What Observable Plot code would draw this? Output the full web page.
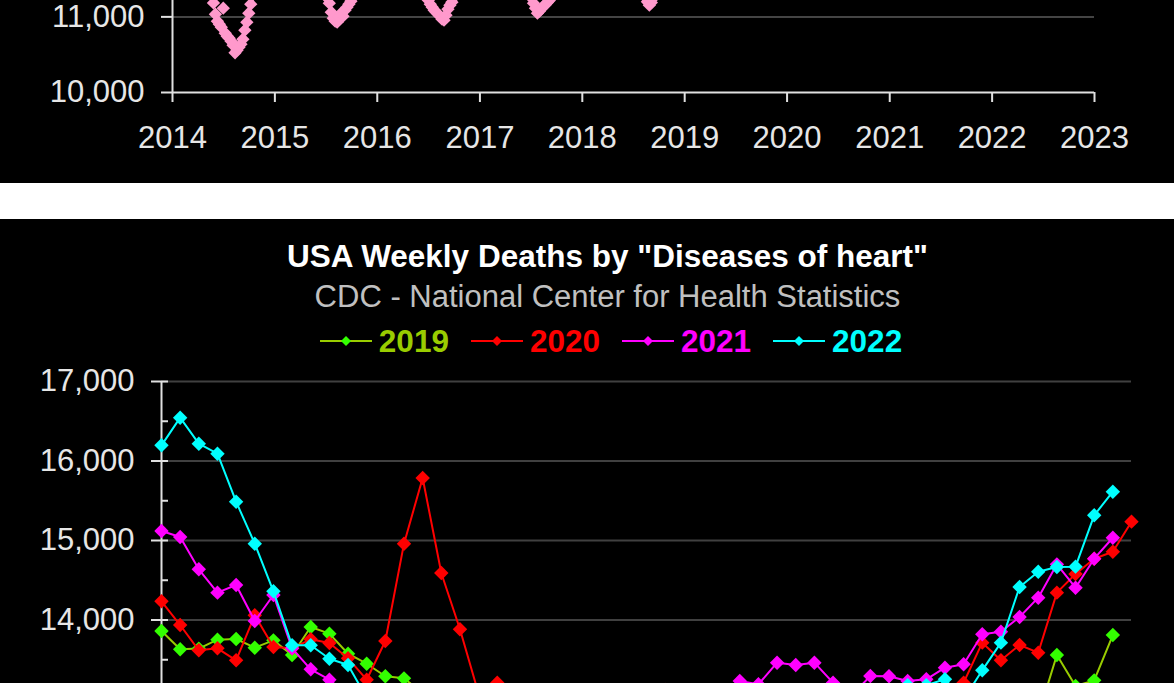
<!DOCTYPE html>
<html>
<head>
<meta charset="utf-8">
<script src="https://cdn.jsdelivr.net/npm/d3@7"></script>
<script src="https://cdn.jsdelivr.net/npm/@observablehq/plot@0.6"></script>
<style>
  html, body { margin: 0; padding: 0; }
  body { width: 1174px; height: 683px; overflow: hidden; position: relative; background: #fff;
         font-family: "Liberation Sans", Arial, sans-serif; }
  #top { position: absolute; left: 0; top: 0; width: 1174px; height: 183px; background: #000; overflow: hidden; }
  #top > svg { position: absolute; left: 0; bottom: 0; }
  #bot { position: absolute; left: 0; top: 219px; width: 1174px; height: 464px; background: #000; overflow: hidden; }
  #bot > svg { position: absolute; left: 0; top: 142px; }
  .hdr { position: absolute; left: 0; width: 1215px; text-align: center; line-height: 32px; white-space: nowrap; }
  #title { top: 21px; color: #fff; font-weight: bold; font-size: 31.5px; }
  #subtitle { top: 62px; color: #c0c0c0; font-size: 31px; }
  #legend { position: absolute; top: 106px; left: 0; width: 1222px; height: 32px; display: flex; justify-content: center; gap: 22px; }
  .item { display: flex; align-items: center; gap: 7px; font-weight: bold; font-size: 31.5px; line-height: 32px; }
</style>
</head>
<body>
<div id="top"></div>
<div id="bot">
  <div id="title" class="hdr">USA Weekly Deaths by "Diseases of heart"</div>
  <div id="subtitle" class="hdr">CDC - National Center for Health Statistics</div>
  <div id="legend"></div>
</div>
<script>
// ---------- Top chart (only its lower part is in view): weekly values, summer lows ----------
const topYearTicks = ["2014","2015","2016","2017","2018","2019","2020","2021","2022","2023"];
const topYTicks = [10000, 11000];           // labelled ticks that are in view
const topGridTicks = [11000, 12000, 13000]; // gridlines
const pinkStarts = ["2014-05-20", "2015-07-07", "2016-07-01", "2017-07-04", "2018-08-14"];
const pink2014 = [11300, 11185, 11036, 10943, 10904, 10864, 11115, 10785, 10745, 10718, 10679, 10626, 10524, 10560, 10599, 10639, 10705, 10824, 10930, 11049, 11168, 11290];
const pink2015 = [11250, 11181, 11062, 10983, 10943, 10930, 10996, 11049, 11009, 11089, 11128, 11168, 11208, 11260];
const pink2016 = [11221, 11168, 11128, 11089, 11062, 11036, 11009, 10970, 10956, 11022, 11102, 11155, 11195, 11260];
const pink2017 = [11250, 11181, 11115, 11049, 11076, 11110, 11140, 11160, 11190, 11215, 11250];
const pink2018 = [11260, 11200, 11155, 11190, 11250];

// ---------- Bottom chart: weekly deaths by "Diseases of heart" ----------
const seriesNames = ["2019", "2020", "2021", "2022"];
const lineColors = ["#99cc00", "#ff0000", "#ff00ff", "#00ffff"];
const markerColors = ["#33ff00", "#ff0000", "#ff00ff", "#00ffff"];
const textColors = ["#99cc00", "#ff0000", "#ff00ff", "#00ffff"];
const botYTicks = [14000, 15000, 16000, 17000];   // labelled ticks that are in view
const botGridTicks = [12000, 13000, 14000, 15000, 16000, 17000];
const botMinorTicks = [13000, 13500, 14000, 14500, 15000, 15500, 16000, 16500, 17000];

const deaths2019 = [13862, 13631, 13640, 13753, 13761, 13652, 13744, 13560, 13912, 13828, 13576, 13450, 13292, 13266, 13080, 12950, 12870, 12790, 12730, 12640, 12560, 12420, 12380, 12310, 12250, 12190, 12060, 12150, 12120, 12080, 12050, 12010, 11990, 12040, 11950, 12010, 12030, 12090, 12110, 12180, 12250, 12290, 12360, 12420, 12510, 12590, 12620, 12800, 13560, 13170, 13241, 13811];
const deaths2020 = [14235, 13937, 13619, 13644, 13493, 14059, 13660, 13644, 13757, 13711, 13518, 13249, 13736, 14960, 15786, 14591, 13883, 13072, 13211, 12980, 12890, 12850, 12760, 12780, 12830, 12900, 13040, 13120, 13090, 12980, 12870, 12790, 12700, 12660, 12590, 12560, 12610, 12640, 12700, 12760, 12820, 12890, 13000, 13211, 13715, 13493, 13686, 13589, 14344, 14578, 14770, 14859, 15237];
const deaths2021 = [15119, 15044, 14638, 14344, 14440, 13987, 14314, 13644, 13380, 13249, 13050, 12980, 12890, 12930, 12860, 12840, 12780, 12700, 12650, 12590, 12560, 12470, 12500, 12450, 12430, 12480, 12520, 12610, 12760, 12930, 13080, 13233, 13191, 13463, 13434, 13463, 13211, 13050, 13296, 13292, 13233, 13254, 13400, 13443, 13820, 13853, 14038, 14281, 14700, 14406, 14771, 15035];
const deaths2022 = [16197, 16545, 16218, 16092, 15488, 14960, 14361, 13682, 13682, 13513, 13434, 13020, 12930, 12850, 12790, 12740, 12690, 12620, 12560, 12590, 12510, 12480, 12420, 12460, 12530, 12580, 12640, 12710, 12760, 12720, 12680, 12650, 12630, 12580, 12600, 12560, 12640, 12690, 12770, 12900, 13180, 13180, 13254, 13000, 13367, 13715, 14415, 14608, 14667, 14671, 15317, 15614];
const allDeaths = [deaths2019, deaths2020, deaths2021, deaths2022];

const commaFmt = d3.format(",");

// ---------- build top chart ----------
const pinkSegs = [pink2014, pink2015, pink2016, pink2017, pink2018];
const pinkData = [];
pinkSegs.forEach((vals, s) => {
  const start = new Date(pinkStarts[s] + "T00:00:00Z");
  vals.forEach((v, i) => pinkData.push({date: d3.utcDay.offset(start, 7 * i), value: v}));
});
const yearDates = topYearTicks.map(y => new Date(y + "-01-01T00:00:00Z"));

const topFont = {fontSize: 31, fill: "#e6e6e6"};
const topChart = Plot.plot({
  width: 1174, height: 716,
  marginLeft: 172, marginRight: 80, marginTop: 20, marginBottom: 91,
  style: {background: "transparent", color: "#e6e6e6", fontFamily: "'Liberation Sans', Arial, sans-serif", fontSize: "31px"},
  x: {type: "utc", domain: [yearDates[0], yearDates[yearDates.length - 1]]},
  y: {domain: [10000, 18000]},
  marks: [
    Plot.ruleY(topGridTicks, {stroke: "#444", strokeWidth: 2}),
    Plot.ruleY([10000], {stroke: "#e0e0e0", strokeWidth: 2}),
    Plot.ruleX([yearDates[0]], {stroke: "#e0e0e0", strokeWidth: 2}),
    Plot.axisY({ticks: topYTicks, tickSize: 11, tickPadding: 17, tickFormat: commaFmt, stroke: "#e0e0e0", strokeWidth: 2, ...topFont, label: null}),
    Plot.axisX({ticks: yearDates, tickSize: 10, tickPadding: 23, tickFormat: d3.utcFormat("%Y"), stroke: "#e0e0e0", strokeWidth: 2, ...topFont, label: null}),
    Plot.dot(pinkData, {x: "date", y: "value", symbol: "diamond2", r: 6, fill: "#ff99cc", stroke: null})
  ]
});
document.getElementById("top").appendChild(topChart);

// ---------- build bottom chart ----------
const botMarks = [
  Plot.ruleY(botGridTicks, {stroke: "#404040", strokeWidth: 2}),
  Plot.ruleX([1], {stroke: "#e0e0e0", strokeWidth: 2}),
  Plot.axisY({ticks: botYTicks, tickSize: 10, tickPadding: 17, tickFormat: commaFmt, stroke: "#e0e0e0", strokeWidth: 2, fontSize: 31, fill: "#e6e6e6", label: null}),
  Plot.axisY({ticks: botMinorTicks, tickSize: -7, tickFormat: () => "", stroke: "#e0e0e0", strokeWidth: 2, label: null})
];
allDeaths.forEach((vals, s) => {
  const data = vals.map((v, i) => ({week: i + 1, value: v}));
  botMarks.push(Plot.line(data, {x: "week", y: "value", stroke: lineColors[s], strokeWidth: 2}));
  botMarks.push(Plot.dot(data, {x: "week", y: "value", symbol: "diamond2", r: 6.5, fill: markerColors[s], stroke: null}));
});
const botChart = Plot.plot({
  width: 1174, height: 560,
  marginLeft: 161, marginRight: 43, marginTop: 20, marginBottom: 63,
  style: {background: "transparent", color: "#e6e6e6", fontFamily: "'Liberation Sans', Arial, sans-serif", fontSize: "31px"},
  x: {domain: [1, 53], axis: null},
  y: {domain: [11000, 17000]},
  marks: botMarks
});
document.getElementById("bot").appendChild(botChart);

// ---------- legend ----------
const legend = document.getElementById("legend");
seriesNames.forEach((name, s) => {
  const item = document.createElement("div");
  item.className = "item";
  item.innerHTML = `<svg width="52" height="14" viewBox="0 0 52 14"><line x1="0" y1="7" x2="52" y2="7" stroke="${lineColors[s]}" stroke-width="2"/><path d="M26,2 L31,7 L26,12 L21,7 Z" fill="${markerColors[s]}"/></svg><span style="color:${textColors[s]}">${name}</span>`;
  legend.appendChild(item);
});
</script>
</body>
</html>
